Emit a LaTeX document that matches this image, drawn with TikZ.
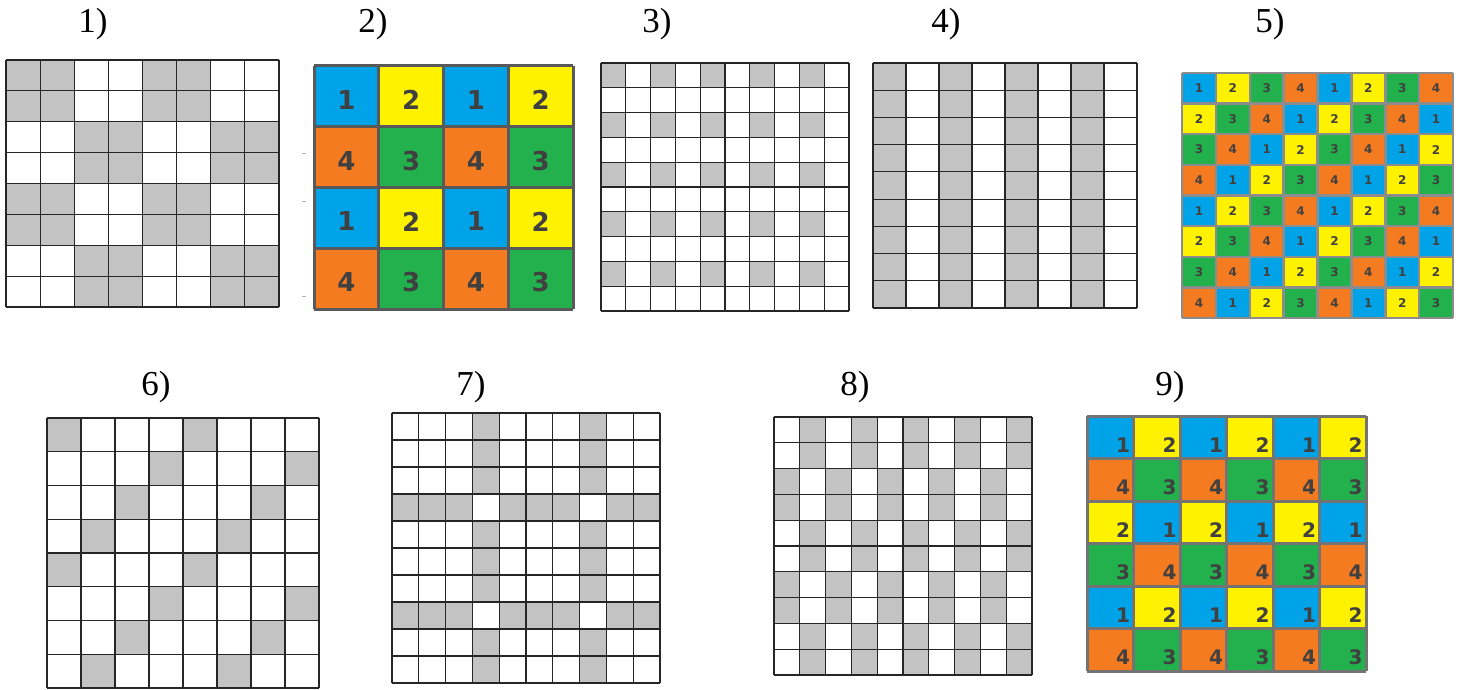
\documentclass[tikz,border=0pt]{standalone}
\usepackage{fontspec}
\setmainfont{Liberation Serif}
\newfontfamily\digitfont{DejaVu Sans}
\definecolor{col1}{HTML}{00A2E8}
\definecolor{col2}{HTML}{FFF200}
\definecolor{col3}{HTML}{22B14C}
\definecolor{col4}{HTML}{F47B20}
\definecolor{cellgray}{HTML}{C3C3C3}

\begin{document}
\begin{tikzpicture}[x=1pt,y=-1pt,
  lbl/.style={anchor=base,inner sep=0pt,font=\fontsize{35}{40}\selectfont},
  gcell/.style={fill=cellgray},
  gline/.style={line width=1.2pt,draw=black!85},
  cline/.style={line width=#1,draw=black!65},
  num/.style={inner sep=0pt,text=black!75,font=\digitfont\bfseries\fontsize{#1}{#1}\selectfont},
]
  \useasboundingbox (0,0) rectangle (1460,690);

  % labels
  \node[lbl] (l1) at (93,33)    {1)};
  \node[lbl] (l2) at (373,33)   {2)};
  \node[lbl] (l3) at (657,33)   {3)};
  \node[lbl] (l4) at (946,33)   {4)};
  \node[lbl] (l5) at (1270,33)  {5)};
  \node[lbl] (l6) at (156,395)  {6)};
  \node[lbl] (l7) at (471,395)  {7)};
  \node[lbl] (l8) at (855,395)  {8)};
  \node[lbl] (l9) at (1170,395) {9)};

  % 1) pairs of cells
  \begin{scope}[shift={(6,60)},x=34.125pt,y=-30.875pt]
    \foreach \r in {0,1,4,5} \foreach \c in {0,1,4,5} \fill[gcell] (\c,\r) rectangle ++(1,1);
    \foreach \r in {2,3,6,7} \foreach \c in {2,3,6,7} \fill[gcell] (\c,\r) rectangle ++(1,1);
    \foreach \i in {0,...,8} {\draw[gline] (\i,0) -- (\i,8); \draw[gline] (0,\i) -- (8,\i);}
  \end{scope}

  % 2) four colours
  \begin{scope}[shift={(314,66)},x=64.75pt,y=-60.75pt]
    \foreach \r/\a/\b in {0/1/2,1/4/3,2/1/2,3/4/3}
      \foreach \c in {0,...,3} {
        \pgfmathtruncatemacro\v{mod(\c,2)==0 ? \a : \b}
        \fill[col\v] (\c,\r) rectangle ++(1,1);
        \node[num=26] (b2-\r-\c) at (\c+0.5,\r+0.56) {\v};
      }
    \foreach \i in {0,...,4} {\draw[cline=3pt] (\i,0) -- (\i,4); \draw[cline=3pt] (0,\i) -- (4,\i);}
  \end{scope}
  \foreach \t in {153,201,296} \draw[black!30,line width=0.8pt] (302,\t) -- ++(4,0);

  % 3) every other cell
  \begin{scope}[shift={(601,63)},x=24.8pt,y=-24.8pt]
    \foreach \r in {0,2,...,8} \foreach \c in {0,2,...,8} \fill[gcell] (\c,\r) rectangle ++(1,1);
    \foreach \i in {0,...,10} {\draw[gline] (\i,0) -- (\i,10); \draw[gline] (0,\i) -- (10,\i);}
  \end{scope}

  % 4) columns
  \begin{scope}[shift={(873,63)},x=33pt,y=-27.222pt]
    \foreach \c in {0,2,4,6} \fill[gcell] (\c,0) rectangle ++(1,9);
    \foreach \i in {0,...,8} \draw[gline] (\i,0) -- (\i,9);
    \foreach \j in {0,...,9} \draw[gline] (0,\j) -- (8,\j);
  \end{scope}

  % 5) diagonal colours
  \begin{scope}[shift={(1182,73)},x=33.875pt,y=-30.625pt]
    \foreach \r in {0,...,7}
      \foreach \c in {0,...,7} {
        \pgfmathtruncatemacro\v{mod(\r+\c,4)+1}
        \fill[col\v] (\c,\r) rectangle ++(1,1);
        \node[num=12] (b5-\r-\c) at (\c+0.5,\r+0.5) {\v};
      }
    \foreach \i in {0,...,8} {\draw[cline=2.5pt,black!45] (\i,0) -- (\i,8); \draw[cline=2.5pt,black!45] (0,\i) -- (8,\i);}
  \end{scope}

  % 6) diagonals
  \begin{scope}[shift={(47,418)},x=34pt,y=-33.75pt]
    \foreach \r/\c in {0/0,1/3,2/2,3/1}
      \foreach \dr in {0,4} \foreach \dc in {0,4}
        \fill[gcell] (\c+\dc,\r+\dr) rectangle ++(1,1);
    \foreach \i in {0,...,8} {\draw[gline] (\i,0) -- (\i,8); \draw[gline] (0,\i) -- (8,\i);}
  \end{scope}

  % 7) crossing bands
  \begin{scope}[shift={(392,413)},x=26.8pt,y=-27pt]
    \foreach \k in {3,7} {\fill[gcell] (\k,0) rectangle ++(1,10); \fill[gcell] (0,\k) rectangle ++(10,1);}
    \foreach \r in {3,7} \foreach \c in {3,7} \fill[white] (\c,\r) rectangle ++(1,1);
    \foreach \i in {0,...,10} {\draw[gline] (\i,0) -- (\i,10); \draw[gline] (0,\i) -- (10,\i);}
  \end{scope}

  % 8) shifted pairs
  \begin{scope}[shift={(774,417)},x=25.8pt,y=-25.8pt]
    \foreach \r in {0,1,4,5,8,9} \foreach \c in {1,3,...,9} \fill[gcell] (\c,\r) rectangle ++(1,1);
    \foreach \r in {2,3,6,7} \foreach \c in {0,2,...,8} \fill[gcell] (\c,\r) rectangle ++(1,1);
    \foreach \i in {0,...,10} {\draw[gline] (\i,0) -- (\i,10); \draw[gline] (0,\i) -- (10,\i);}
  \end{scope}

  % 9) shifted colours
  \begin{scope}[shift={(1087,416)},x=46.5pt,y=-42.5pt]
    \foreach \r/\a/\b in {0/1/2,1/4/3,2/2/1,3/3/4,4/1/2,5/4/3}
      \foreach \c in {0,...,5} {
        \pgfmathtruncatemacro\v{mod(\c,2)==0 ? \a : \b}
        \fill[col\v] (\c,\r) rectangle ++(1,1);
        \node[num=20,anchor=south east] (b9-\r-\c) at (\c+0.93,\r+0.86) {\v};
      }
    \foreach \i in {0,...,6} {\draw[cline=3pt,black!55] (\i,0) -- (\i,6); \draw[cline=3pt,black!55] (0,\i) -- (6,\i);}
  \end{scope}
\end{tikzpicture}
\end{document}
